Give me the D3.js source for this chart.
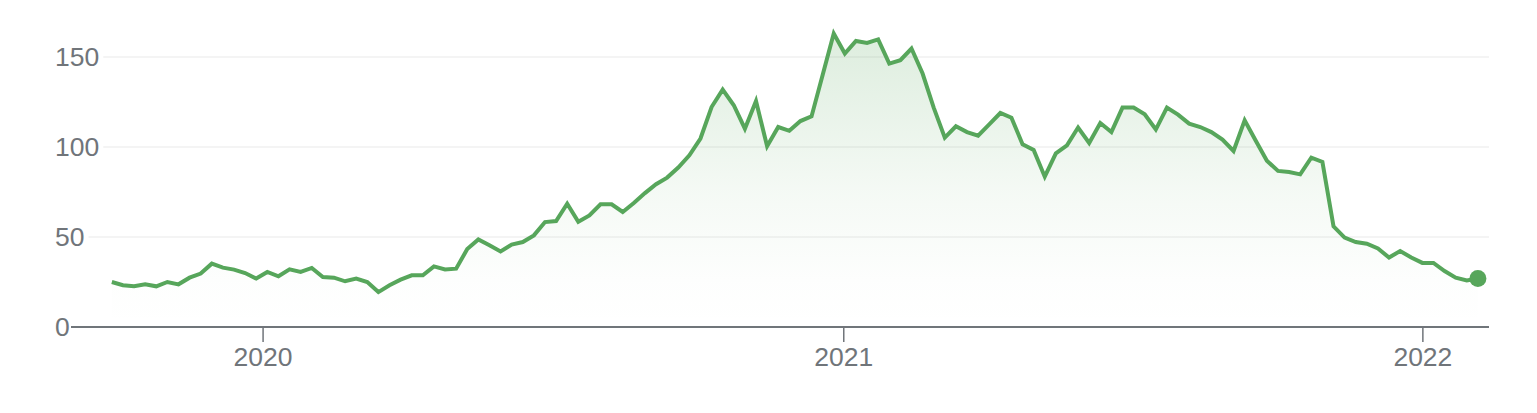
<!DOCTYPE html>
<html>
<head>
<meta charset="utf-8">
<script src="https://cdn.jsdelivr.net/npm/d3@7"></script>
<style>
  html, body { margin: 0; padding: 0; background: #fff; }
  svg { display: block; font-family: "Liberation Sans", Arial, sans-serif; }
</style>
</head>
<body>
<div class="chart"></div>
<script>
// weekly closes, first week 2019-09-28
const startDate = '2019-09-28';
const prices = [
  25.0, 23.2, 22.6, 23.7, 22.6, 25.0, 23.7, 27.4, 29.7, 35.2,
  33.0, 31.9, 30.0, 26.9, 30.6, 28.2, 32.0, 30.6, 32.8, 27.8,
  27.4, 25.4, 26.9, 25.0, 19.4, 23.2, 26.3, 28.7, 28.7, 33.7,
  32.0, 32.4, 43.3, 48.6, 45.4, 42.0, 45.8, 47.2, 50.9, 58.3,
  58.9, 68.5, 58.5, 62.0, 68.2, 68.2, 63.9, 68.9, 74.4, 79.3,
  83.0, 88.6, 95.4, 104.7, 122.2, 131.9, 123.2, 110.2, 125.6, 100.4,
  111.1, 109.0, 114.4, 117.0, 140.0, 163.0, 151.9, 158.9, 157.8, 159.8,
  146.3, 148.2, 154.7, 140.8, 121.9, 105.2, 111.5, 108.3, 106.3, 112.6,
  118.9, 116.3, 101.5, 98.3, 83.5, 96.5, 100.9, 110.8, 102.2, 113.3,
  108.3, 121.9, 121.9, 118.2, 109.7, 121.9, 118.0, 113.0, 111.1, 108.3,
  104.1, 97.8, 114.8, 103.5, 92.4, 86.7, 86.1, 84.8, 94.1, 91.7,
  55.9, 49.7, 47.2, 46.3, 43.6, 38.6, 42.2, 38.6, 35.6, 35.6,
  31.1, 27.4, 25.9, 26.9
];
const yTicks = [0, 50, 100, 150];
const xTickYears = ['2020-01-01', '2021-01-01', '2022-01-01'];

const width = 1537, height = 413;
const parse = d3.utcParse('%Y-%m-%d');
const first = parse(startDate);
const data = prices.map((v, i) => ({ date: d3.utcDay.offset(first, i * 7), value: v }));

const x = d3.scaleUtc()
  .domain([new Date(Date.UTC(2019, 8, 2, 6)), new Date(Date.UTC(2022, 1, 12))])
  .range([71, 1489]);
const y = d3.scaleLinear().domain([0, 150]).range([327, 57]);

const svg = d3.select('.chart').append('svg')
  .attr('width', width)
  .attr('height', height);

const green = '#57a65b';
const grey = '#70757a';
const fontSize = 26.5;

// gradient under the line, fades out well before the baseline
const grad = svg.append('defs').append('linearGradient')
  .attr('id', 'fillGrad')
  .attr('gradientUnits', 'userSpaceOnUse')
  .attr('x1', 0).attr('x2', 0)
  .attr('y1', y(d3.max(prices))).attr('y2', y(0));
grad.append('stop').attr('offset', '0%').attr('stop-color', green).attr('stop-opacity', 0.2);
grad.append('stop').attr('offset', '55%').attr('stop-color', green).attr('stop-opacity', 0.06);
grad.append('stop').attr('offset', '85%').attr('stop-color', green).attr('stop-opacity', 0.01);
grad.append('stop').attr('offset', '100%').attr('stop-color', green).attr('stop-opacity', 0);

// y labels + gridlines
const yGroup = svg.append('g').attr('class', 'y-axis');
yTicks.forEach(t => {
  const label = yGroup.append('text')
    .attr('x', 55)
    .attr('y', y(t))
    .attr('dy', '0.35em')
    .attr('fill', grey)
    .attr('font-size', fontSize)
    .text(t);
  const w = label.node().getComputedTextLength();
  if (t !== 0) {
    yGroup.append('line')
      .attr('x1', 55 + w + 4).attr('x2', 1489)
      .attr('y1', y(t)).attr('y2', y(t))
      .attr('stroke', '#f1f1f1')
      .attr('stroke-width', 1.5);
  }
});

// area
const area = d3.area()
  .x(d => x(d.date))
  .y0(y(0))
  .y1(d => y(d.value));
svg.append('path')
  .datum(data)
  .attr('fill', 'url(#fillGrad)')
  .attr('d', area);

// x axis
const xAxis = d3.axisBottom(x)
  .tickValues(xTickYears.map(parse))
  .tickFormat(d3.utcFormat('%Y'))
  .tickSize(15)
  .tickPadding(5);
const xGroup = svg.append('g')
  .attr('class', 'x-axis')
  .attr('transform', `translate(0,${y(0)})`)
  .call(xAxis);
xGroup.select('.domain')
  .attr('d', `M71,0H1489`)
  .attr('stroke', grey)
  .attr('stroke-width', 2);
xGroup.selectAll('.tick line').attr('stroke', grey).attr('stroke-width', 1.5);
xGroup.selectAll('.tick text')
  .attr('fill', grey)
  .attr('font-size', fontSize)
  .attr('font-family', '"Liberation Sans", Arial, sans-serif');

// line
const line = d3.line()
  .x(d => x(d.date))
  .y(d => y(d.value));
svg.append('path')
  .datum(data)
  .attr('fill', 'none')
  .attr('stroke', green)
  .attr('stroke-width', 4)
  .attr('stroke-linejoin', 'miter')
  .attr('d', line);

const last = data[data.length - 1];
svg.append('circle')
  .attr('cx', x(last.date))
  .attr('cy', y(last.value))
  .attr('r', 8.5)
  .attr('fill', green);
</script>
</body>
</html>
